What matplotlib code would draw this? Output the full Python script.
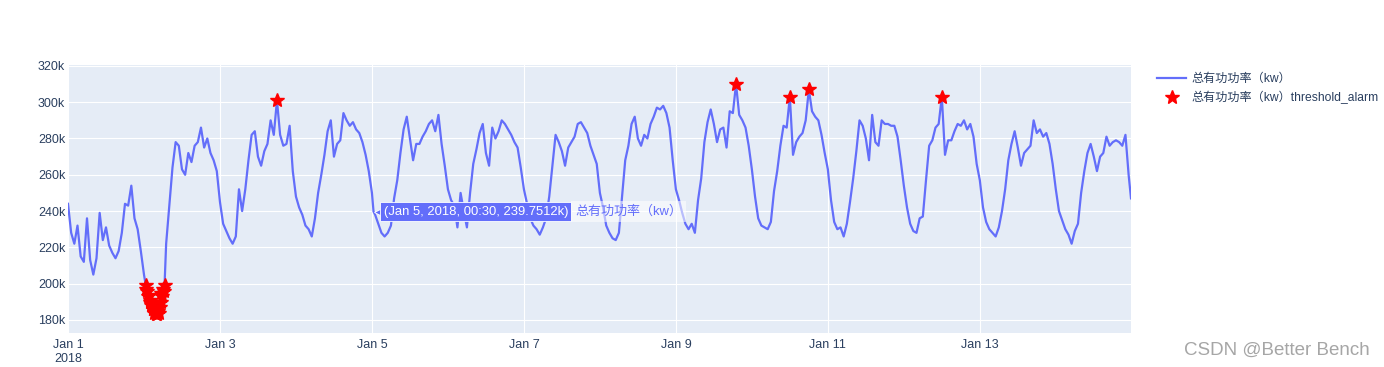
import matplotlib
matplotlib.use("Agg")

import matplotlib.pyplot as plt
import matplotlib.transforms as mtransforms
from matplotlib.lines import Line2D
import pandas as pd

# Values in k (kW / 1000), one hourly reading per day.
jan01 = [244, 228, 222, 232, 215, 212, 236, 213, 205, 214, 239, 224, 231, 221, 217, 214, 218, 228, 244, 243, 254, 236, 230, 218]
jan02 = [205, 196, 190, 186, 185, 187, 197, 222, 243, 264, 278, 276, 263, 260, 272, 267, 276, 278, 286, 275, 280, 272, 268, 262]
jan03 = [245, 233, 229, 225, 222, 226, 252, 240, 252, 268, 282, 284, 270, 265, 273, 277, 290, 282, 301, 282, 276, 277, 287, 262]
jan04 = [248, 242, 238, 232, 230, 226, 236, 250, 260, 271, 284, 290, 270, 277, 279, 294, 290, 287, 289, 285, 283, 278, 271, 262]
jan05 = [250, 238, 233, 228, 226, 228, 232, 247, 257, 272, 285, 292, 280, 268, 277, 277, 281, 284, 288, 290, 284, 293, 277, 265]
jan06 = [252, 246, 243, 231, 250, 240, 231, 250, 266, 274, 283, 288, 272, 265, 286, 280, 284, 290, 288, 285, 282, 278, 275, 264]
jan07 = [252, 244, 236, 232, 230, 227, 231, 236, 248, 265, 282, 278, 273, 265, 275, 278, 281, 288, 289, 286, 283, 276, 271, 266]
jan08 = [250, 242, 232, 228, 225, 224, 228, 248, 268, 276, 288, 292, 280, 276, 282, 280, 288, 292, 297, 296, 298, 294, 286, 268]
jan09 = [252, 246, 239, 233, 230, 233, 228, 246, 258, 278, 289, 296, 288, 278, 285, 286, 275, 295, 294, 310, 293, 290, 286, 276]
jan10 = [263, 248, 236, 232, 231, 230, 234, 251, 262, 276, 287, 286, 303, 271, 278, 281, 283, 290, 307, 295, 292, 290, 282, 272]
jan11 = [263, 246, 234, 230, 231, 226, 233, 245, 258, 273, 290, 287, 280, 268, 293, 278, 276, 290, 288, 288, 287, 287, 281, 268]
jan12 = [254, 242, 233, 229, 228, 236, 237, 257, 276, 279, 286, 288, 303, 271, 279, 279, 284, 288, 287, 290, 285, 288, 281, 266]
jan13 = [257, 242, 234, 230, 228, 226, 231, 240, 252, 268, 277, 284, 275, 265, 272, 274, 276, 290, 283, 285, 281, 283, 277, 266]
jan14 = [252, 240, 235, 230, 227, 222, 229, 233, 250, 262, 272, 277, 270, 262, 270, 272, 281, 276, 278, 279, 278, 276, 282, 260]

# Extra sub-hourly readings (the Jan 2 dip, the hovered point, the last sample).
extra_times = [
    "2018-01-02 00:30", "2018-01-02 00:45", "2018-01-02 01:15", "2018-01-02 01:30",
    "2018-01-02 01:45", "2018-01-02 02:15", "2018-01-02 02:30", "2018-01-02 02:45",
    "2018-01-02 03:15", "2018-01-02 03:30", "2018-01-02 03:45", "2018-01-02 04:15",
    "2018-01-02 04:30", "2018-01-02 04:45", "2018-01-02 05:15", "2018-01-02 05:30",
    "2018-01-02 05:45", "2018-01-02 06:15", "2018-01-02 06:30",
    "2018-01-05 00:30", "2018-01-14 23:45",
]
extra_values = [
    199.5, 197, 193, 194,
    191, 188, 189, 186,
    184, 185, 183, 183,
    185, 184, 190, 195,
    193, 196, 199.5,
    239.7512, 247,
]

LOW_LIMIT = 200000
HIGH_LIMIT = 300000

SERIES_NAME = "总有功功率（kw）"
ALARM_NAME = "总有功功率（kw）threshold_alarm"
HOVER_TIME = "2018-01-05 00:30"
HOVER_TEXT = "(Jan 5, 2018, 00:30, 239.7512k)"

LINE_COLOR = "#636efa"
TEXT_COLOR = "#2a3f5f"
BG_COLOR = "#e5ecf6"

plt.rcParams["font.family"] = ["Liberation Sans", "Noto Sans CJK SC"]

days = [jan01, jan02, jan03, jan04, jan05, jan06, jan07,
        jan08, jan09, jan10, jan11, jan12, jan13, jan14]
hourly = sum(days, [])
hourly_series = pd.Series(hourly, index=pd.date_range("2018-01-01", periods=len(hourly), freq="h"))
extra_series = pd.Series(extra_values, index=pd.to_datetime(extra_times))
power = pd.concat([hourly_series, extra_series]).sort_index() * 1000
alarms = power[(power < LOW_LIMIT) | (power > HIGH_LIMIT)]

W, H = 1384, 367
fig = plt.figure(figsize=(W / 100, H / 100), dpi=100)
ax = fig.add_axes([68 / W, 1 - 333 / H, (1131 - 68) / W, (333 - 65) / H])
ax.set_facecolor(BG_COLOR)
for spine in ax.spines.values():
    spine.set_visible(False)

ax.plot(power.index, power.values, color=LINE_COLOR, lw=1.6, zorder=3)
ax.plot(alarms.index, alarms.values, ls="none", marker="*", ms=10,
        color="red", zorder=4)

ax.set_xlim(pd.Timestamp("2018-01-01 00:00"), pd.Timestamp("2018-01-14 23:45"))
ax.set_ylim(172800, 320500)

xticks = pd.date_range("2018-01-01", "2018-01-13", freq="2D")
xlabels = [f"Jan {d.day}" for d in xticks]
xlabels[0] = "Jan 1\n2018"
ax.set_xticks(xticks)
ax.set_xticklabels(xlabels, linespacing=1.25)
yticks = list(range(180000, 320001, 20000))
ax.set_yticks(yticks)
ax.set_yticklabels([f"{v // 1000}k" for v in yticks])
ax.tick_params(length=0, labelsize=9, colors=TEXT_COLOR)
ax.tick_params(axis="x", pad=4)
ax.tick_params(axis="y", pad=2)
ax.grid(True, color="white", lw=0.8)
ax.set_axisbelow(True)

# hover label
hover_x = pd.Timestamp(HOVER_TIME)
hover_y = power.loc[hover_x]
if isinstance(hover_y, pd.Series):
    hover_y = hover_y.iloc[0]
pointer = mtransforms.offset_copy(ax.transData, fig=fig, x=5, y=0, units="dots")
ax.plot([hover_x], [hover_y], marker="<", ms=7, color=LINE_COLOR, mec="white",
        mew=0.6, transform=pointer, zorder=6)
hover = ax.annotate(HOVER_TEXT, xy=(hover_x, hover_y), xytext=(10, 0),
                    textcoords="offset pixels", ha="left", va="center",
                    color="white", fontsize=9.4, zorder=7,
                    bbox=dict(boxstyle="square,pad=0.25", fc=LINE_COLOR,
                              ec="white", lw=0.6))
ax.annotate(SERIES_NAME, xy=(1, 0.5), xycoords=hover, xytext=(7, 0),
            textcoords="offset pixels", ha="left", va="center",
            color=LINE_COLOR, fontsize=9.4, zorder=7,
            bbox=dict(boxstyle="square,pad=0.3", fc="white", alpha=0.55, ec="none"))

handles = [
    Line2D([], [], color=LINE_COLOR, lw=1.6),
    Line2D([], [], ls="none", marker="*", ms=10, color="red"),
]
fig.legend(handles, [SERIES_NAME, ALARM_NAME], loc="upper left",
           bbox_to_anchor=(1157 / W, 1 - 73 / H), frameon=False, fontsize=8.7,
           labelcolor=TEXT_COLOR, handlelength=2.4, handletextpad=0.45,
           labelspacing=0.5, borderaxespad=0, borderpad=0)

fig.text(1370 / W, 1 - 350 / H, "CSDN @Better Bench", ha="right", va="center",
         fontsize=13.5, color="#a6a6a6")

fig.savefig("out.png", dpi=100)
plt.close(fig)
